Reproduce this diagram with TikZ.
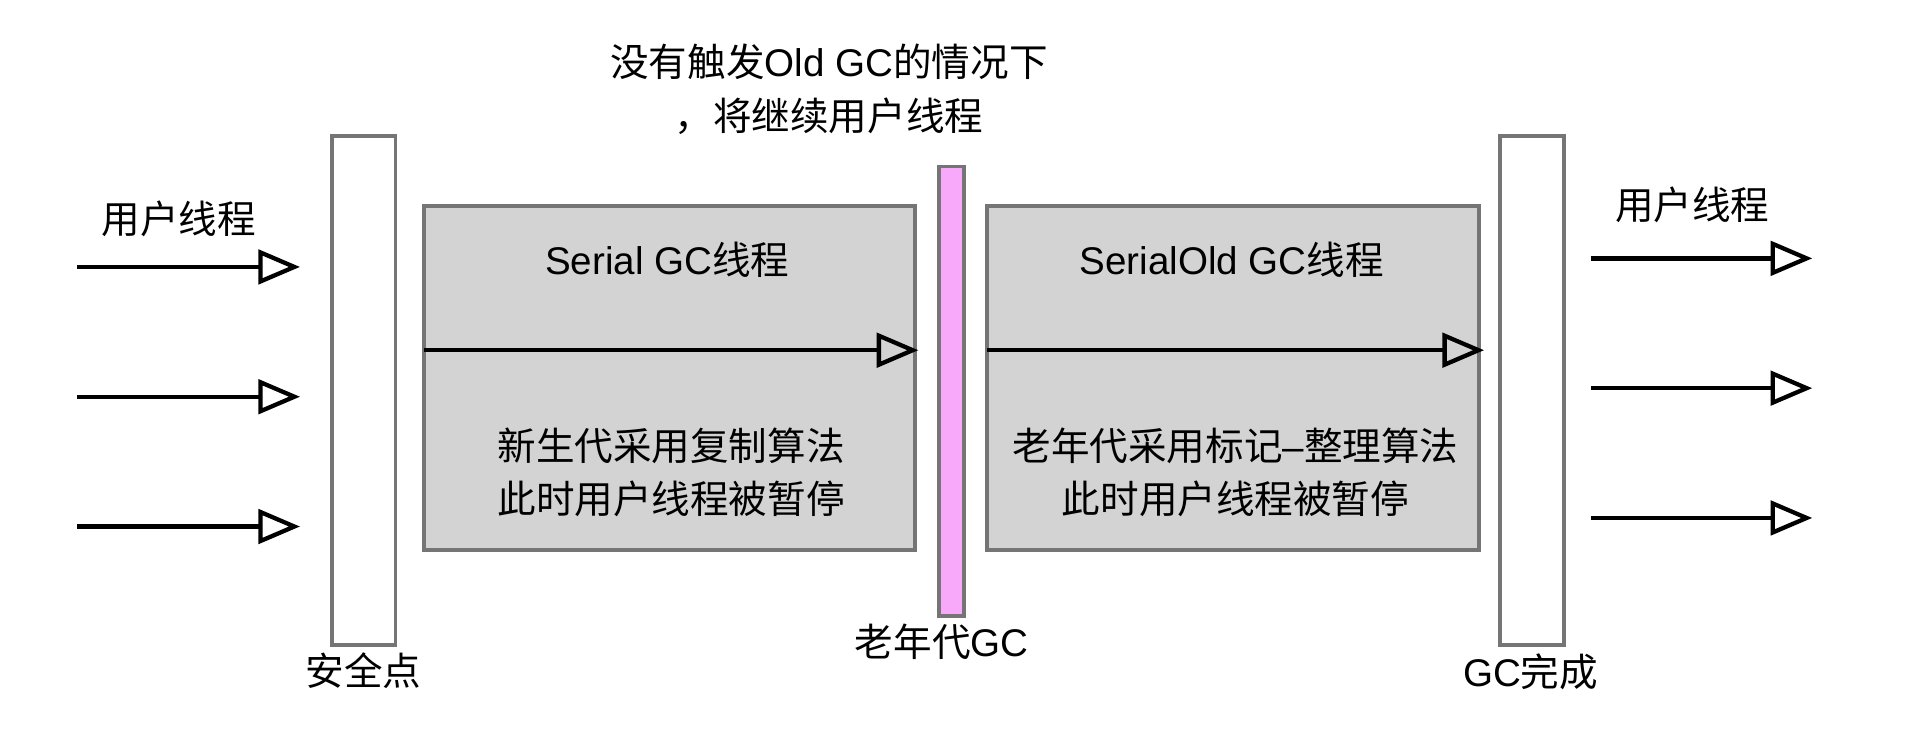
\documentclass[tikz,border=0pt]{standalone}
\usepackage{fontspec}
\setmainfont{Noto Sans CJK SC}
\newfontfamily\lat{Liberation Sans}
\usetikzlibrary{arrows.meta}
\definecolor{boxgray}{HTML}{D3D3D3}
\definecolor{edgegray}{HTML}{757575}
\definecolor{pinkfill}{HTML}{F9A9F9}
\begin{document}
\begin{tikzpicture}[x=1pt,y=-1pt,
 bar/.style={draw=edgegray, line width=3pt, fill=white, inner sep=0pt, outer sep=0pt},
 gcbox/.style={draw=edgegray, line width=3pt, fill=boxgray, inner sep=0pt, outer sep=0pt},
 flow/.style={line width=3.5pt, -{Triangle[open, length=34pt, width=28pt, line width=3.5pt]}},
 lbl/.style={font=\fontsize{31.5}{43}\selectfont, inner sep=0pt, align=center}
]
\useasboundingbox (0,0) rectangle (1568,617);
% bars
\node[bar, minimum width=52pt, minimum height=416pt] (sp) at (297,319) {};
\node[bar, minimum width=52pt, minimum height=416pt] (done) at (1251,319) {};
\node[bar, fill=pinkfill, minimum width=20pt, minimum height=367pt] (old) at (777,319.5) {};
% boxes
\node[gcbox, minimum width=401pt, minimum height=281pt] (b1) at (546.5,308.5) {};
\node[gcbox, minimum width=402pt, minimum height=281pt] (b2) at (1007,308.5) {};
% labels
\node[lbl] (tsp) at (297,548) {安全点};
\node[lbl] (tdone) at (1250,549) {{\lat GC}完成};
\node[lbl] (told) at (769,524) {老年代{\lat GC}};
\node[lbl] (tin) at (146,179) {用户线程};
\node[lbl] (tout) at (1382,167) {用户线程};
\node[lbl, font=\fontsize{31.5}{44}\selectfont] (ttop) at (677,73) {没有触发{\lat Old GC}的情况下\\，将继续用户线程};
\node[lbl] (t1a) at (545,212) {{\lat Serial GC}线程};
\node[lbl] (t2a) at (1006,212) {{\lat SerialOld GC}线程};
\node[lbl] (t1b) at (548,385.5) {新生代采用复制算法\\此时用户线程被暂停};
\node[lbl] (t2b) at (1009,385.5) {老年代采用标记{\lat –}整理算法\\此时用户线程被暂停};
% arrow end points
\coordinate (a1s) at (63,218); \coordinate (a1e) at (245,218);
\coordinate (a2s) at (63,324); \coordinate (a2e) at (245,324);
\coordinate (a3s) at (63,430); \coordinate (a3e) at (245,430);
\coordinate (c1s) at (1299,211); \coordinate (c1e) at (1480,211);
\coordinate (c2s) at (1299,317); \coordinate (c2e) at (1480,317);
\coordinate (c3s) at (1299,423); \coordinate (c3e) at (1480,423);
\coordinate (g1s) at (346,286); \coordinate (g1e) at (750,286);
\coordinate (g2s) at (806,286); \coordinate (g2e) at (1212,286);
\draw[flow] (a1s) -- (a1e);
\draw[flow] (a2s) -- (a2e);
\draw[flow] (a3s) -- (a3e);
\draw[flow] (c1s) -- (c1e);
\draw[flow] (c2s) -- (c2e);
\draw[flow] (c3s) -- (c3e);
\draw[flow] (g1s) -- (g1e);
\draw[flow] (g2s) -- (g2e);
\end{tikzpicture}
\end{document}
